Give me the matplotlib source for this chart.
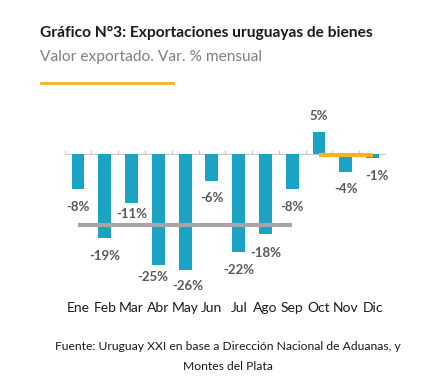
import matplotlib.pyplot as plt
from matplotlib.lines import Line2D

months = ["Ene", "Feb", "Mar", "Abr", "May", "Jun", "Jul", "Ago", "Sep", "Oct", "Nov", "Dic"]
var_pct = [-8, -19, -11, -25, -26, -6, -22, -18, -8, 5, -4, -1]
avg_first = -15.9   # promedio Ene-Sep
avg_last = 0.0      # promedio Oct-Dic

# desplazamiento de etiquetas (dx en categorias, dy en %)
label_dx = [0, 0, 0, -0.2, 0.1, 0, 0, 0, 0, 0, 0, 0.15]
label_dy = [4.0, 4.0, 2.5, 2.7, 3.6, 4.0, 4.0, 4.2, 4.0, 3.5, 4.0, 4.0]

bar_color = "#1AA3C3"
orange = "#F5B324"
gray_line = "#A6A6A6"

plt.rcParams['font.family'] = ['Lato', 'DejaVu Sans']

fig = plt.figure(figsize=(4.4, 3.83), dpi=100)
W, H = 440, 383

# titulo
fig.text(40 / W, 1 - 33 / H, "Gráfico N°3: Exportaciones uruguayas de bienes",
         fontsize=11.2, fontweight="bold", color="#1a1a1a", va="center")
fig.text(40 / W, 1 - 57 / H, "Valor exportado. Var. % mensual",
         fontsize=11.2, color="#808080", va="center")
fig.add_artist(Line2D([41 / W, 173 / W], [1 - 83 / H, 1 - 83 / H],
                      color=orange, lw=2, transform=fig.transFigure))

ax = fig.add_axes([64.6 / W, (H - 290) / H, (386 - 64.6) / W, 190 / H])
x = range(len(months))
ax.bar(x, var_pct, width=0.48, color=bar_color, zorder=2)
ax.set_xlim(-0.5, 11.5)
ax.set_ylim(-30.6, 12.1)

ax.axhline(0, color="#C8C8C8", lw=0.8, zorder=1)
ax.vlines([i + 0.5 for i in range(-1, 12)], 0, 0.9, color="#C8C8C8", lw=0.8, zorder=1)

ax.plot([0, 8], [avg_first, avg_first], color=gray_line, lw=3, zorder=3, solid_capstyle="butt")
ax.plot([9, 11], [avg_last - 0.2, avg_last - 0.2], color=orange, lw=3, zorder=3, solid_capstyle="butt")

for i, v in enumerate(var_pct):
    y = v - label_dy[i] if v < 0 else v + label_dy[i]
    ax.text(i + label_dx[i], y, f"{v}%", ha="center", va="center", fontsize=9.5,
            fontweight="bold", color="#595959")

ax.set_xticks(list(x))
ax.set_xticklabels(months, fontsize=10, color="#1a1a1a")
ax.tick_params(axis="x", length=0, pad=9)
ax.set_yticks([])
for s in ax.spines.values():
    s.set_visible(False)

fig.text(228 / W, 1 - 346 / H, "Fuente: Uruguay XXI en base a Dirección Nacional de Aduanas, y",
         fontsize=8.7, color="#1a1a1a", ha="center", va="center")
fig.text(228 / W, 1 - 366 / H, "Montes del Plata",
         fontsize=8.7, color="#1a1a1a", ha="center", va="center")

fig.savefig("out.png", dpi=100)
